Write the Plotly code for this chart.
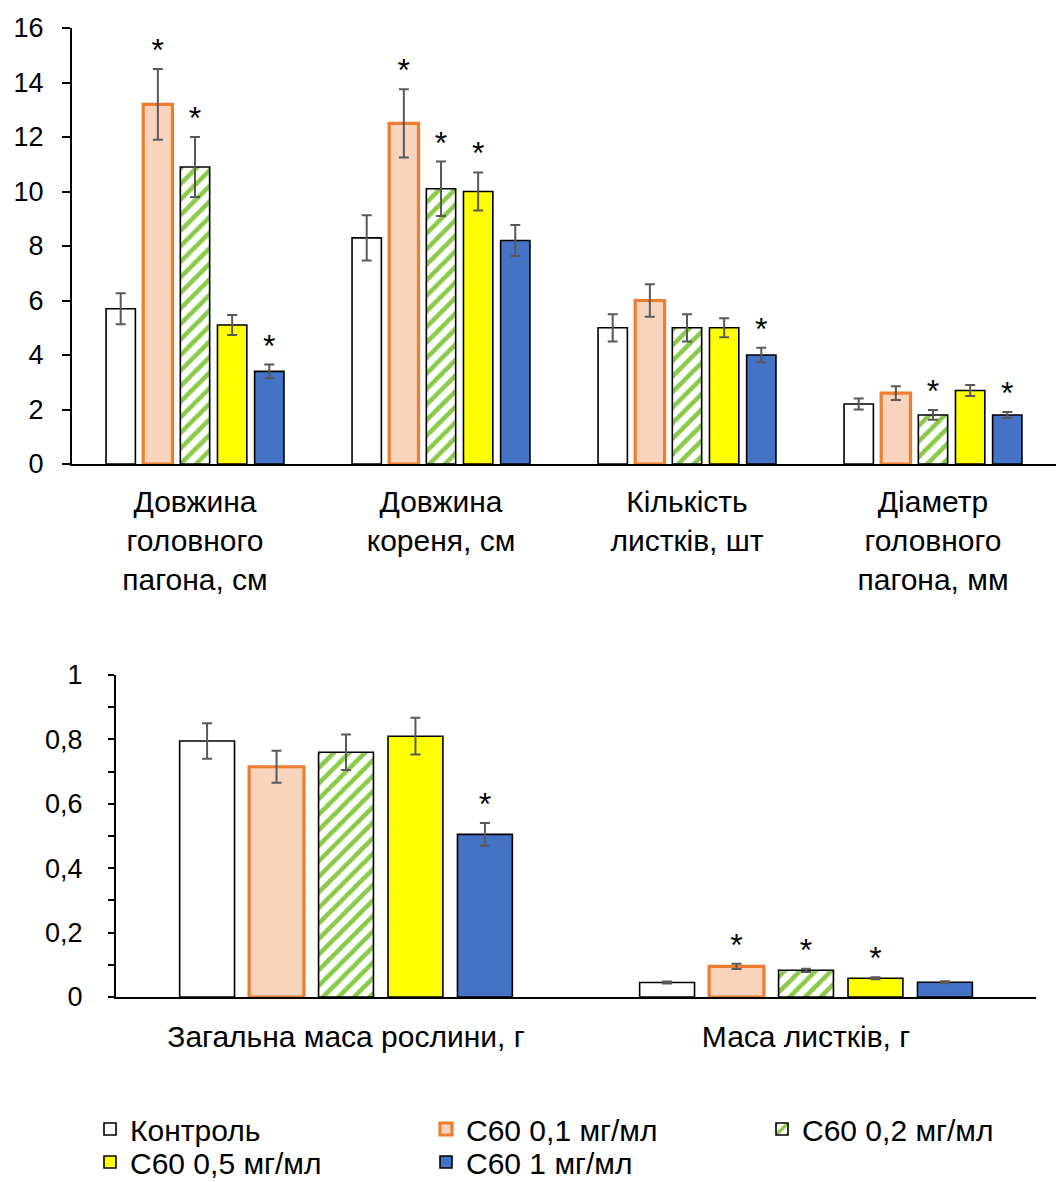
import plotly.graph_objects as go

# ---------------- data ----------------
series = ["Контроль", "C60 0,1 мг/мл", "C60 0,2 мг/мл", "C60 0,5 мг/мл", "C60 1 мг/мл"]
legend_rows = ["legend", "legend", "legend", "legend2", "legend2"]

cats_top = ["Довжина<br>головного<br>пагона, см", "Довжина<br>кореня, см",
            "Кількість<br>листків, шт", "Діаметр<br>головного<br>пагона, мм"]
cats_bottom = ["Загальна маса рослини, г", "Маса листків, г"]

top_control = [5.7, 8.3, 5.0, 2.2]
top_c01 = [13.2, 12.5, 6.0, 2.6]
top_c02 = [10.9, 10.1, 5.0, 1.8]
top_c05 = [5.1, 10.0, 5.0, 2.7]
top_c1 = [3.4, 8.2, 4.0, 1.8]

top_err_control = [0.57, 0.83, 0.5, 0.2]
top_err_c01 = [1.3, 1.25, 0.6, 0.25]
top_err_c02 = [1.1, 1.0, 0.5, 0.18]
top_err_c05 = [0.37, 0.7, 0.35, 0.2]
top_err_c1 = [0.25, 0.57, 0.27, 0.11]

top_sig_control = [False, False, False, False]
top_sig_c01 = [True, True, False, False]
top_sig_c02 = [True, True, False, True]
top_sig_c05 = [False, True, False, False]
top_sig_c1 = [True, False, True, True]

bot_control = [0.795, 0.045]
bot_c01 = [0.715, 0.095]
bot_c02 = [0.76, 0.083]
bot_c05 = [0.81, 0.058]
bot_c1 = [0.505, 0.046]

bot_err_control = [0.055, 0.003]
bot_err_c01 = [0.05, 0.008]
bot_err_c02 = [0.055, 0.005]
bot_err_c05 = [0.057, 0.003]
bot_err_c1 = [0.035, 0.003]

bot_sig_control = [False, False]
bot_sig_c01 = [False, True]
bot_sig_c02 = [False, True]
bot_sig_c05 = [False, True]
bot_sig_c1 = [True, False]

top_vals = [top_control, top_c01, top_c02, top_c05, top_c1]
top_errs = [top_err_control, top_err_c01, top_err_c02, top_err_c05, top_err_c1]
top_sigs = [top_sig_control, top_sig_c01, top_sig_c02, top_sig_c05, top_sig_c1]
bot_vals = [bot_control, bot_c01, bot_c02, bot_c05, bot_c1]
bot_errs = [bot_err_control, bot_err_c01, bot_err_c02, bot_err_c05, bot_err_c1]
bot_sigs = [bot_sig_control, bot_sig_c01, bot_sig_c02, bot_sig_c05, bot_sig_c1]

# ---------------- styles ----------------
FONT = "Liberation Sans, Arial, sans-serif"
W, H = 1056, 1182
LABEL_SIZE = 30
TICK_SIZE = 27

markers = [
    dict(color="#FFFFFF", line=dict(color="#000000", width=1.6)),
    dict(color="#F8D4BC", line=dict(color="#ED7D31", width=3.2)),
    dict(color="#FFFFFF", line=dict(color="#000000", width=1.6),
         pattern=dict(shape="/", fgcolor="#8BC94A", bgcolor="#FFFFFF", fgopacity=1,
                      fillmode="replace", size=11, solidity=0.42)),
    dict(color="#FFFF00", line=dict(color="#000000", width=1.6)),
    dict(color="#4472C4", line=dict(color="#000000", width=1.6)),
]

fig = go.Figure()


def add_panel(cats, vals, errs, sigs, xa, ya, show_legend):
    for i, name in enumerate(series):
        fig.add_trace(go.Bar(
            x=cats, y=vals[i], name=name, marker=markers[i],
            error_y=dict(type="data", array=errs[i], color="#595959", thickness=2, width=5),
            xaxis=xa, yaxis=ya, showlegend=show_legend, legendgroup=name,
            legend=legend_rows[i], offsetgroup=name,
        ))
    for i, name in enumerate(series):
        ys = [v + e if s else None for v, e, s in zip(vals[i], errs[i], sigs[i])]
        fig.add_trace(go.Scatter(
            x=cats, y=ys, mode="text", text=["*"] * len(cats),
            textposition="top center",
            textfont=dict(family=FONT, size=32, color="#000000"),
            xaxis=xa, yaxis=ya, showlegend=False, hoverinfo="skip",
            offsetgroup=name, cliponaxis=False,
        ))


add_panel(cats_top, top_vals, top_errs, top_sigs, "x", "y", True)
add_panel(cats_bottom, bot_vals, bot_errs, bot_sigs, "x2", "y2", False)

axis_common = dict(showline=True, linecolor="#000000", linewidth=2, showgrid=False,
                   zeroline=False, tickfont=dict(family=FONT, size=TICK_SIZE, color="#000000"),
                   automargin=False)
xcat_font = dict(family=FONT, size=LABEL_SIZE, color="#000000")

top_dom = [(H - 464) / H, (H - 28) / H]
bot_dom = [(H - 997) / H, (H - 675) / H]

legend_common = dict(orientation="h", xanchor="left", yanchor="middle",
                     font=dict(family=FONT, size=LABEL_SIZE, color="#000000"),
                     entrywidth=291, entrywidthmode="pixels", itemwidth=30,
                     bgcolor="rgba(0,0,0,0)", tracegroupgap=0, traceorder="normal")

fig.update_layout(
    width=W, height=H,
    margin=dict(l=0, r=0, t=0, b=0, autoexpand=False),
    paper_bgcolor="#FFFFFF", plot_bgcolor="#FFFFFF",
    barmode="group", bargap=0.245, bargroupgap=0.21,
    scattermode="group", scattergap=0.245,
    separators=", ",
    font=dict(family=FONT, size=TICK_SIZE, color="#000000"),
    xaxis=dict(domain=[72 / W, 1.0], anchor="y", ticks="", ticklabelstandoff=10,
               **{**axis_common, "tickfont": xcat_font}),
    yaxis=dict(domain=top_dom, anchor="x", range=[0, 16], dtick=2,
               ticks="outside", ticklen=8, tickwidth=2, tickcolor="#000000",
               ticklabelstandoff=13, **axis_common),
    yaxis3=dict(domain=top_dom, anchor="x", overlaying="y", side="left", range=[0, 16], dtick=2,
                ticks="inside", ticklen=8, tickwidth=2, tickcolor="#000000",
                showticklabels=False, showline=False, showgrid=False, zeroline=False),
    xaxis2=dict(domain=[116 / W, 1036 / W], anchor="y2", ticks="", ticklabelstandoff=12,
                **{**axis_common, "tickfont": xcat_font}),
    yaxis2=dict(domain=bot_dom, anchor="x2", range=[0, 1], dtick=0.2,
                tickformat=".1~f",
                ticks="outside", ticklen=6, tickwidth=2, tickcolor="#000000",
                minor=dict(dtick=0.1, ticks="outside", ticklen=6, tickwidth=2, tickcolor="#000000"),
                ticklabelstandoff=20, **axis_common),
    yaxis4=dict(domain=bot_dom, anchor="x2", overlaying="y2", side="left", range=[0, 1], dtick=0.1,
                ticks="inside", ticklen=6, tickwidth=2, tickcolor="#000000",
                showticklabels=False, showline=False, showgrid=False, zeroline=False),
    legend=dict(x=90 / W, y=(H - 1129) / H, **legend_common),
    legend2=dict(x=90 / W, y=(H - 1162) / H, **legend_common),
)

fig.write_html("out.html")
